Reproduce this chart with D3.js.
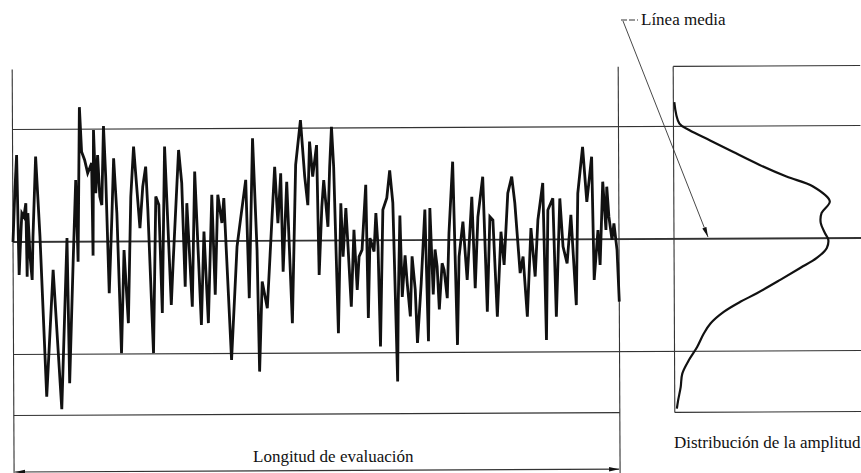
<!DOCTYPE html>
<meta charset="utf-8">
<style>
body { margin: 0; background: #fff; }
text { font: 17px "Liberation Serif", "DejaVu Serif", serif; fill: #111; }
.ref { stroke: #333; fill: none; }
</style>
<body>
<svg width="861" height="473"></svg>
<script src="https://cdn.jsdelivr.net/npm/d3@7/dist/d3.min.js"></script>
<script>
// profile: [position along evaluation length, height in µm]
var profile = [
  [0,0.00],[2,1.95],[4,3.48],[6,-1.32],[8,0.41],[9,1.15],[11,1.01],[13,1.55],[14,-1.39],[15,1.15],
  [17,-0.59],[19,-1.52],[20,0.21],[23,3.41],[27,0.21],[33,-6.19],[40,-1.12],[48,-6.70],[54,0.15],[56,-5.66],
  [60,-0.86],[63,2.47],[65,-0.80],[67,5.38],[69,3.60],[72,3.27],[75,2.74],[79,3.14],[80,-0.56],[81,4.46],
  [83,1.94],[85,3.46],[87,1.80],[89,1.46],[91,4.62],[93,2.60],[96,-2.07],[99,1.00],[101,3.33],[104,1.13],
  [108,-4.47],[111,-0.34],[115,-3.27],[118,1.79],[121,3.79],[127,0.53],[130,2.19],[133,2.99],[135,1.26],[140,-4.47],
  [143,1.79],[146,1.46],[149,-2.87],[152,3.79],[158,-2.55],[160,-0.88],[166,3.65],[169,2.32],[172,-1.82],[174,1.52],
  [179,-2.62],[182,2.78],[188,-3.35],[191,0.38],[195,-3.28],[199,1.85],[202,-2.15],[205,1.85],[209,0.72],[211,1.72],
  [218,-4.76],[224,-0.23],[228,0.97],[233,2.44],[236,-2.29],[240,4.10],[244,-0.36],[246,-5.23],[249,-1.63],[254,-2.70],
  [262,2.96],[265,0.70],[268,2.70],[270,-1.24],[274,2.36],[279,-3.30],[283,3.03],[288,4.82],[292,2.56],[295,1.42],
  [297,3.96],[300,2.56],[304,3.82],[306,-1.38],[309,1.36],[311,2.42],[313,1.49],[315,0.55],[317,2.95],[319,4.55],
  [321,2.95],[325,-3.71],[328,1.49],[330,-0.65],[333,1.29],[335,-0.25],[338,-2.65],[341,0.42],[344,-1.98],[346,-0.65],
  [349,-0.38],[353,2.22],[355,-3.11],[357,0.09],[361,-0.45],[363,1.09],[365,-0.25],[367,-4.25],[370,1.22],[374,1.69],
  [377,2.79],[380,1.49],[384,-5.65],[385,-2.41],[387,0.99],[389,-2.27],[392,-0.61],[394,-1.71],[397,-3.05],[399,-0.65],
  [402,-1.98],[404,-4.11],
  [408,-1.72],[412,1.22],[415,-4.05],[417,1.28],[420,-2.18],[422,-0.38],[424,-1.05],[426,-2.78],[429,-0.93],[431,-1.20],
  [434,-2.33],[436,0.27],[440,3.13],[444,-4.20],[446,-0.67],[450,0.73],[454,-1.60],[459,1.72],[462,-1.94],[465,0.92],
  [470,2.52],[474,-2.88],[477,0.92],[480,0.79],[484,-3.08],[488,0.32],[491,-1.01],[495,1.86],[499,2.52],[502,1.46],
  [507,-1.34],[510,-0.68],[514,-3.08],[518,0.46],[522,-1.48],[525,0.79],[530,2.26],[533,-4.02],[535,1.18],[540,1.65],
  [543,-3.09],[547,1.64],[550,-0.29],[554,-0.96],[558,0.98],[563,-2.63],[565,1.84],[570,3.70],[574,1.50],[579,3.30],
  [581,-1.63],[585,0.37],[587,-1.03],[590,2.30],[593,0.37],[594,2.10],[596,0.90],[599,-0.03],[601,0.63],[604,-0.44],
  [606,-2.50]
];

// amplitude distribution: [height in µm, relative density]
var distribution = [
  [5.47,0.005],[4.61,0.032],[4.34,0.086],[3.94,0.193],[3.47,0.317],[2.94,0.46],[2.47,0.603],[2.07,0.745],
  [1.47,0.834],[1.01,0.79],[0.61,0.785],[0.21,0.807],[-0.06,0.825],[-0.39,0.817],[-0.79,0.763],[-1.19,0.674],
  [-1.66,0.567],[-2.19,0.442],[-2.53,0.353],[-2.93,0.264],[-3.39,0.193],[-3.79,0.157],[-4.33,0.121],[-4.86,0.076],
  [-5.39,0.041],[-5.93,0.032],[-6.46,0.018],[-6.79,0.011]
];

var refLevels = [4.5, 0, -4.5];   // upper line, mean line, lower line
var zLimits = [-6.94, 6.9];       // frame bottom / top
var evalLength = [0, 606];

var labelMean = "Línea media";
var labelDist = "Distribución de la amplitud";
var labelLength = "Longitud de evaluación";

var svg = d3.select("svg");

var x = d3.scaleLinear().domain(evalLength).range([13, 619]),
    y = d3.scaleLinear().domain([-7, 7]).range([415, 65]),
    xd = d3.scaleLinear().domain([0, 1]).range([674, 861]);

var defs = svg.append("defs");
defs.append("marker")
    .attr("id", "arrow")
    .attr("viewBox", "0 0 10 6")
    .attr("refX", 10).attr("refY", 3)
    .attr("markerWidth", 10).attr("markerHeight", 6)
    .attr("markerUnits", "userSpaceOnUse")
    .attr("orient", "auto-start-reverse")
  .append("path")
    .attr("d", "M0,0.8L10,3L0,5.2Z")
    .attr("fill", "#111");

// the scan is slightly tilted
var g = svg.append("g").attr("transform", "rotate(-0.27,437,240)");

g.selectAll(".level")
    .data(refLevels)
  .enter().append("line")
    .attr("class", "ref level")
    .attr("x1", x(evalLength[0])).attr("x2", xd(1))
    .attr("y1", function(d) { return y(d); })
    .attr("y2", function(d) { return y(d); })
    .attr("stroke-width", function(d) { return d === 0 ? 1.9 : 1.1; })
    .attr("stroke", function(d) { return d === 0 ? "#111" : null; });

// frame bottom, split at the gap between profile and distribution
g.selectAll(".bottom")
    .data([[x(evalLength[0]), x(evalLength[1])], [xd(0), xd(1)]])
  .enter().append("line")
    .attr("class", "ref bottom")
    .attr("x1", function(d) { return d[0]; })
    .attr("x2", function(d) { return d[1]; })
    .attr("y1", y(zLimits[0])).attr("y2", y(zLimits[0]))
    .attr("stroke-width", 1.1);

// distribution box
g.append("line").attr("class", "ref")
    .attr("x1", xd(0)).attr("x2", xd(1))
    .attr("y1", y(zLimits[1])).attr("y2", y(zLimits[1]))
    .attr("stroke-width", 1.1);
g.append("line").attr("class", "ref")
    .attr("x1", xd(0)).attr("x2", xd(0))
    .attr("y1", y(zLimits[1])).attr("y2", y(zLimits[0]))
    .attr("stroke-width", 1.1);

// evaluation length limits
g.selectAll(".limit")
    .data(evalLength)
  .enter().append("line")
    .attr("class", "ref limit")
    .attr("x1", function(d) { return x(d); })
    .attr("x2", function(d) { return x(d); })
    .attr("y1", y(zLimits[1])).attr("y2", 474)
    .attr("stroke-width", 1.1);

g.append("line").attr("class", "ref")
    .attr("x1", x(evalLength[0]) + 1).attr("x2", x(evalLength[1]) - 1)
    .attr("y1", 470).attr("y2", 470)
    .attr("stroke-width", 1.1)
    .attr("marker-start", "url(#arrow)")
    .attr("marker-end", "url(#arrow)");

g.append("path")
    .datum(profile)
    .attr("fill", "none")
    .attr("stroke", "#111")
    .attr("stroke-width", 2.8)
    .attr("d", d3.line()
        .x(function(d) { return x(d[0]); })
        .y(function(d) { return y(d[1]); }));

g.append("path")
    .datum(distribution)
    .attr("fill", "none")
    .attr("stroke", "#111")
    .attr("stroke-width", 2.2)
    .attr("d", d3.line()
        .curve(d3.curveCatmullRom)
        .x(function(d) { return xd(d[1]); })
        .y(function(d) { return y(d[0]); }));

// leader for the mean line
svg.append("line").attr("class", "ref")
    .attr("x1", 621).attr("x2", 638).attr("y1", 20).attr("y2", 20)
    .attr("stroke-width", 1).attr("stroke-dasharray", "6,2");
svg.append("line").attr("class", "ref")
    .attr("x1", 623).attr("y1", 21)
    .attr("x2", 708).attr("y2", 237)
    .attr("stroke-width", 0.9)
    .attr("marker-end", "url(#arrow)");

svg.append("text").attr("x", 641).attr("y", 25).text(labelMean);
svg.append("text").attr("x", 674).attr("y", 448).text(labelDist);
svg.append("text").attr("x", 253).attr("y", 462).text(labelLength);
</script>
</body>
